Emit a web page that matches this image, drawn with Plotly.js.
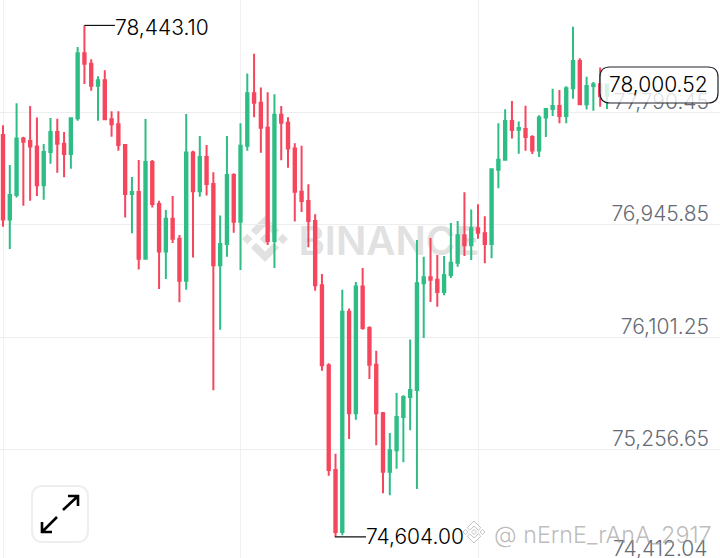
<!DOCTYPE html>
<html><head><meta charset="utf-8">
<script src="https://cdn.plot.ly/plotly-3.0.1.min.js"></script>
<style>html,body{margin:0;padding:0;background:#fff;overflow:hidden}#c{width:720px;height:558px}svg text{font-variant-numeric:tabular-nums}</style>
</head><body><div id="c"></div>
<script>
const opens=[77621,76987,77170,77595,77575,77535,77243,77493,77643,77555,77478,77746,78234,78156,77991,78031,77738,77701,77545,77178,77193,76692,77418,77103,76745,76992,76842,76527,77490,77198,77455,77253,76642,76802,77320,76970,77540,77933,77863,77675,76825,77773,77713,77520,77195,77125,76975,76492,75891,75105,74640,76294,75531,76484,76172,75896,75531,75093,75253,75503,75653,75706,76507,76552,76534,76442,76569,76662,76867,76792,76920,76882,76802,77360,77435,77726,77660,77665,77605,77505,77751,77816,77838,77763,77971,78176,77851,77988,78001,77913];
const highs=[77693,77395,77858,77608,77838,77751,77553,77748,77743,77643,77746,78281,78443.1,78189,78061,78106,77798,77798,77545,77305,77433,77741,77433,77127,77057,77162,76870,77778,77503,77613,77545,77340,77017,77613,77333,77708,78083,78231,77978,77941,77926,77838,77753,77558,77540,77250,77025,76577,75906,75228,76459,76317,76517,76622,76184,76001,75541,75383,75684,75666,76086,76832,76707,76847,76720,76712,76960,76975,77190,77062,77100,77010,77370,77708,77813,77876,77721,77841,77618,77768,77816,77968,77958,77986,78434,78196,78058,78018,78128,78008];
const lows=[76932,76765,77152,77090,77127,77162,77135,77405,77338,77303,77368,77728,78003,77953,77728,77738,77608,77503,77002,76882,76610,76692,77077,76464,76539,76810,76364,76459,76700,77157,77167,75704,76159,76707,76887,76607,77503,77753,77488,76795,76622,77430,77375,76972,77042,76777,76452,75851,75063,74604,74615,75338,75483,76159,75789,75291,74930,74915,75115,75163,75403,74963,76096,76367,76332,76417,76547,76632,76712,76682,76842,76657,76695,77220,77435,77595,77480,77503,77478,77455,77605,77763,77708,77708,77893,77846,77811,77803,77833,77816];
const closes=[76987,77170,77595,77570,77535,77243,77493,77643,77555,77478,77746,78234,78156,77991,78031,77738,77701,77545,77178,77193,76692,77418,77103,76745,76992,76842,76527,77490,77198,77455,77253,76642,76802,77320,76970,77540,77933,77863,77675,76825,77773,77713,77520,77195,77125,76975,76492,75891,75105,74640,76294,75531,76484,76172,75896,75531,75093,75253,75503,75653,75706,76507,76552,76534,76442,76569,76662,76867,76792,76920,76887,76802,77363,77435,77726,77658,77673,77605,77505,77751,77816,77838,77763,77971,78176,77851,77988,78001,77913,78000.52];
const priceTicks=[77790.45,76945.85,76101.25,75256.65];
const priceTickLabels=["77,790.45","76,945.85","76,101.25","75,256.65"];
const bottomLabel="74,412.04";
const timeGrid=[0,35,70];
const highLabel={candle:12,price:78443.10,text:"78,443.10"};
const lowLabel={candle:49,price:74604.00,text:"74,604.00"};
const lastPrice="78,000.52";
const candleIndex=opens.map((_,i)=>i);

const W=720,H=558;
const px=(x,y)=>(x/W).toFixed(5)+","+(1-y/H).toFixed(5);
const roundRect=(x0,y0,x1,y1,r)=>"M"+px(x0+r,y0)+" L"+px(x1-r,y0)+" Q"+px(x1,y0)+" "+px(x1,y0+r)+" L"+px(x1,y1-r)+" Q"+px(x1,y1)+" "+px(x1-r,y1)+" L"+px(x0+r,y1)+" Q"+px(x0,y1)+" "+px(x0,y1-r)+" L"+px(x0,y0+r)+" Q"+px(x0,y0)+" "+px(x0+r,y0)+" Z";
const logoPolys=[
 [[9.79,13.44],[16,7.23],[22.21,13.45],[25.82,9.84],[16,0],[6.18,9.83]],
 [[0,16],[3.61,12.39],[7.22,16],[3.61,19.61]],
 [[9.79,18.56],[16,24.77],[22.21,18.56],[25.82,22.16],[16,32],[6.18,22.18]],
 [[24.78,16],[28.39,12.39],[32,16],[28.39,19.61]],
 [[19.67,16],[16,12.33],[12.33,16],[16,19.66]]];
const logoPath=(ox,oy,s)=>logoPolys.map(p=>"M"+p.map(q=>px(ox+q[0]*s,oy+q[1]*s)).join(" L")+" Z").join(" ");
const paperShape=(path,o)=>Object.assign({type:"path",xref:"paper",yref:"paper",path:path},o);

const shapes=[
 paperShape(logoPath(242,216,46/32),{layer:"below",fillcolor:"#e1e1e1",line:{width:0}}),
 {type:"rect",xref:"paper",yref:"paper",x0:296/W,x1:482/W,y0:1-256/H,y1:1-222/H,layer:"below",line:{width:0},fillcolor:"rgba(0,0,0,0)",
  label:{text:"BINANCE",textposition:"middle center",font:{family:"Inter",size:40,weight:600,color:"#e1e1e1"}}},
 {type:"line",xref:"x",yref:"y",x0:highLabel.candle,x1:16.5,y0:highLabel.price,y1:highLabel.price,line:{color:"#111",width:1.2}},
 {type:"line",xref:"x",yref:"y",x0:lowLabel.candle-0.1,x1:53.5,y0:lowLabel.price,y1:lowLabel.price,line:{color:"#111",width:1.2}},
 paperShape(roundRect(600,67,718,103,10),{fillcolor:"rgba(255,255,255,0.8)",line:{color:"#1e2329",width:1.2}}),
 paperShape(roundRect(32,486,88,542,11),{fillcolor:"#fff",line:{color:"#eeeeee",width:2}}),
 paperShape("M"+px(63,510)+" L"+px(78,496)+" M"+px(68,496)+" L"+px(78,496)+" L"+px(78,506),{line:{color:"#000",width:2.6}}),
 paperShape("M"+px(57,517)+" L"+px(42,532)+" M"+px(42,522)+" L"+px(42,532)+" L"+px(52,532),{line:{color:"#000",width:2.6}}),
 paperShape(logoPath(463,521,22/32),{fillcolor:"rgba(255,255,255,0.85)",line:{color:"rgba(170,170,170,0.7)",width:1}})
];

const textFont=(c)=>({family:"Inter",size:21,weight:300,color:c});
const annotations=[
 {xref:"x",yref:"y",x:16.2,y:highLabel.price,yshift:-2,xanchor:"left",yanchor:"middle",showarrow:false,text:highLabel.text,font:textFont("#000")},
 {xref:"x",yref:"y",x:53.2,y:lowLabel.price,xanchor:"left",yanchor:"middle",showarrow:false,text:lowLabel.text,font:textFont("#000")},
 {xref:"paper",yref:"paper",x:710/W,y:1-85/H,xanchor:"right",yanchor:"middle",showarrow:false,text:lastPrice,font:textFont("#000")},
 {xref:"paper",yref:"paper",x:710/W,y:1-548/H,xanchor:"right",yanchor:"middle",showarrow:false,text:bottomLabel,font:textFont("#666c76")},
 {xref:"paper",yref:"paper",x:714/W,y:1-534/H,xanchor:"right",yanchor:"middle",showarrow:false,text:"@ nErnE_rAnA_2917",font:{family:"Inter",size:23.3,weight:300,color:"rgba(150,150,150,0.65)"}}
];

const trace={type:"candlestick",x:candleIndex,open:opens,high:highs,low:lows,close:closes,
 increasing:{line:{color:"#2EBD85",width:2},fillcolor:"#2EBD85"},
 decreasing:{line:{color:"#F6465D",width:2},fillcolor:"#F6465D"},
 whiskerwidth:0,hoverinfo:"skip"};

const layout={width:W,height:H,margin:{l:0,r:0,t:0,b:0,pad:0},paper_bgcolor:"#fff",plot_bgcolor:"#fff",showlegend:false,boxgap:0.5,
 xaxis:{range:[-0.442,105.66],rangeslider:{visible:false},tickmode:"array",tickvals:timeGrid,showticklabels:false,ticks:"",showgrid:true,gridcolor:"#f0f0f0",gridwidth:1,zeroline:false,showline:false,fixedrange:true},
 yaxis:{range:[74444.8,78634],side:"right",tickmode:"array",tickvals:priceTicks,ticktext:priceTickLabels,ticklabelposition:"inside",ticklabelstandoff:8,ticklabelshift:-11,tickfont:textFont("#666c76"),ticks:"",showgrid:true,gridcolor:"#eeeeee",gridwidth:1,zeroline:false,showline:false,fixedrange:true},
 shapes:shapes,annotations:annotations,hovermode:false,dragmode:false};
Plotly.newPlot("c",[trace],layout,{displayModeBar:false,staticPlot:true});
</script></body></html>
